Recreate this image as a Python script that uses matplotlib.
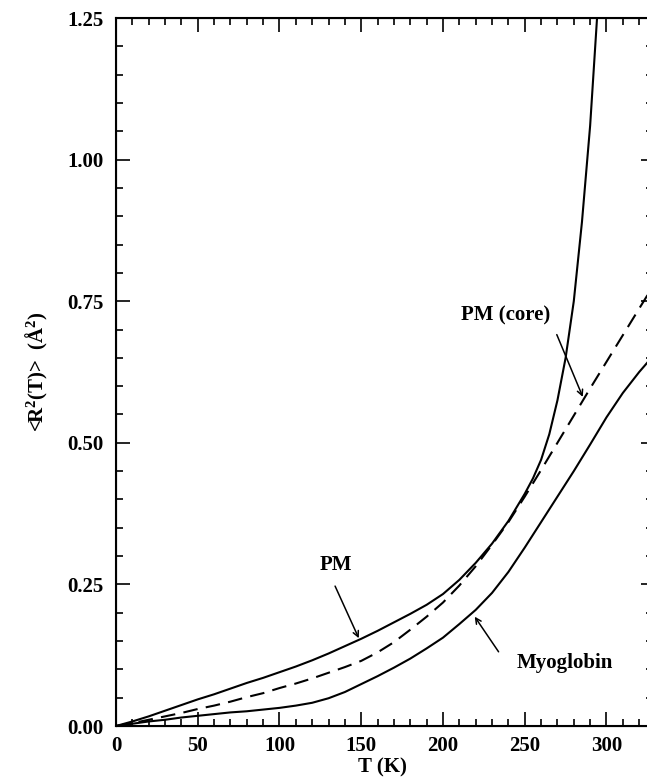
import matplotlib
matplotlib.use("Agg")
import matplotlib.pyplot as plt
from matplotlib.ticker import MultipleLocator, FormatStrFormatter

plt.rcParams['font.family'] = ['Liberation Serif', 'DejaVu Serif']
plt.rcParams['font.weight'] = 'bold'
plt.rcParams['mathtext.fontset'] = 'custom'
plt.rcParams['mathtext.rm'] = 'Liberation Serif:bold'
plt.rcParams['mathtext.it'] = 'Liberation Serif:bold'
plt.rcParams['mathtext.bf'] = 'Liberation Serif:bold'
plt.rcParams['mathtext.default'] = 'rm'

# ---- data ----
pm_T = [0, 10, 20, 30, 40, 50, 60, 70, 80, 90, 100, 110, 120, 130, 140, 150, 160, 170, 180,
        190, 200, 210, 220, 230, 240, 250, 255, 260, 265, 270, 275, 280, 285, 290, 294, 296]
pm_R = [0, 0.008, 0.017, 0.027, 0.037, 0.047, 0.056, 0.066, 0.076, 0.085, 0.095, 0.105, 0.116,
        0.128, 0.141, 0.154, 0.168, 0.183, 0.198, 0.214, 0.233, 0.258, 0.288, 0.322, 0.362, 0.41,
        0.437, 0.47, 0.515, 0.575, 0.65, 0.75, 0.89, 1.06, 1.24, 1.33]

core_T = [0, 10, 20, 30, 40, 50, 60, 70, 80, 90, 100, 110, 120, 130, 140, 150, 160, 170, 180,
          190, 200, 210, 220, 230, 240, 250, 260, 270, 280, 290, 300, 310, 320, 326]
core_R = [0, 0.005, 0.011, 0.017, 0.023, 0.030, 0.036, 0.043, 0.051, 0.058, 0.067, 0.075, 0.084,
          0.094, 0.104, 0.115, 0.130, 0.148, 0.170, 0.193, 0.218, 0.248, 0.282, 0.320, 0.360,
          0.405, 0.452, 0.500, 0.548, 0.596, 0.643, 0.690, 0.737, 0.765]

myo_T = [0, 10, 20, 30, 40, 50, 60, 70, 80, 90, 100, 110, 120, 130, 140, 150, 160, 170, 180,
         190, 200, 210, 220, 230, 240, 250, 260, 270, 280, 290, 300, 310, 320, 326]
myo_R = [0, 0.004, 0.008, 0.011, 0.015, 0.018, 0.021, 0.024, 0.026, 0.029, 0.032, 0.036, 0.041,
         0.049, 0.060, 0.074, 0.088, 0.103, 0.119, 0.137, 0.156, 0.180, 0.205, 0.235, 0.272,
         0.315, 0.360, 0.405, 0.450, 0.497, 0.545, 0.588, 0.625, 0.645]

x_ticks = [0, 50, 100, 150, 200, 250, 300]
y_ticks = [0.00, 0.25, 0.50, 0.75, 1.00, 1.25]

W, H = 647, 783
fig = plt.figure(figsize=(W / 100, H / 100), dpi=100)
left, right, top, bottom = 116, 649, 18, 726
ax = fig.add_axes([left / W, 1 - bottom / H, (right - left) / W, (bottom - top) / H])

ax.plot(pm_T, pm_R, color='black', lw=1.5)
ax.plot(core_T, core_R, color='black', lw=1.5, dashes=(7, 4))
ax.plot(myo_T, myo_R, color='black', lw=1.5)

ax.set_xlim(0, 326)
ax.set_ylim(0, 1.25)
ax.set_xticks(x_ticks)
ax.set_yticks(y_ticks)
ax.xaxis.set_minor_locator(MultipleLocator(10))
ax.yaxis.set_minor_locator(MultipleLocator(0.05))
ax.yaxis.set_major_formatter(FormatStrFormatter('%.2f'))

for s in ax.spines.values():
    s.set_linewidth(1.5)

ax.tick_params(which='both', direction='in', top=True, right=False, width=1.2,
               labelsize=15, pad=9)
ax.tick_params(axis='x', which='both', pad=7)
ax.tick_params(which='major', length=10)
ax.tick_params(which='minor', length=5)
for lab in ax.get_xticklabels() + ax.get_yticklabels():
    lab.set_fontweight('bold')

ax2 = ax.twinx()
ax2.set_ylim(0, 1.25)
ax2.set_yticks(y_ticks)
ax2.yaxis.set_minor_locator(MultipleLocator(0.05))
ax2.tick_params(which='both', direction='in', width=1.2, labelright=False)
ax2.tick_params(which='major', length=6)
ax2.tick_params(which='minor', length=2.5)

ax.set_xlabel('T (K)', fontsize=15, fontweight='bold', labelpad=1)
ax.set_ylabel('<R$^2$(T)>  (Å$^2$)', fontsize=15, fontweight='bold', labelpad=12)

arrow = dict(arrowstyle='->', color='black', lw=1.1, shrinkA=0, shrinkB=0)
ax.text(134.5, 0.285, 'PM', fontsize=15, fontweight='bold', ha='center', va='center')
ax.annotate('', xy=(148.5, 0.155), xytext=(134, 0.247), arrowprops=arrow)
ax.text(238.4, 0.724, 'PM (core)', fontsize=15, fontweight='bold', ha='center', va='center')
ax.annotate('', xy=(285.5, 0.581), xytext=(269.6, 0.691), arrowprops=arrow)
ax.text(274.8, 0.111, 'Myoglobin', fontsize=15, fontweight='bold', ha='center', va='center')
ax.annotate('', xy=(219.4, 0.193), xytext=(234, 0.131), arrowprops=arrow)

fig.savefig('out.png', dpi=100)
